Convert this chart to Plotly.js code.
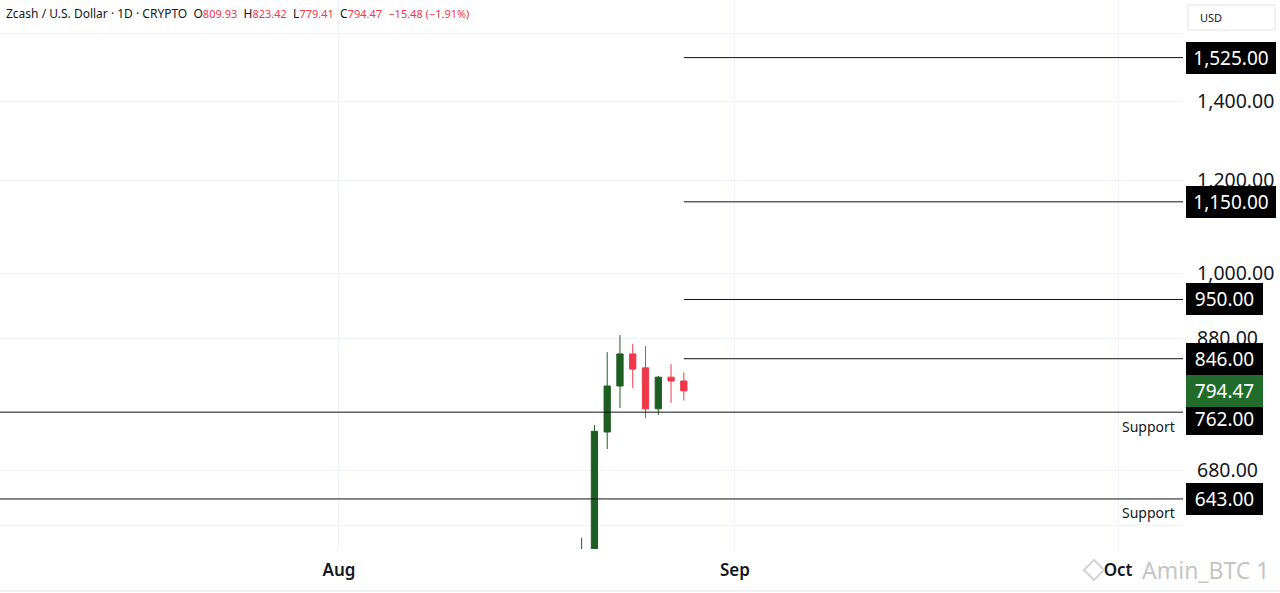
<!DOCTYPE html>
<html>
<head>
<meta charset="utf-8">
<script src="https://cdn.plot.ly/plotly-3.0.1.min.js"></script>
<style>
  html, body { margin: 0; padding: 0; background: #ffffff; }
  #chart { width: 1280px; height: 593px; }
</style>
</head>
<body>
<div id="chart"></div>
<script>
// ---- data ----
const dates  = ['2025-08-20','2025-08-21','2025-08-22','2025-08-23','2025-08-24','2025-08-25','2025-08-26','2025-08-27','2025-08-28'];
const opens  = [552, 548, 733, 802, 854, 831, 767, 816, 809.93];
const highs  = [596, 743, 857, 886, 871, 867, 818, 837, 823.42];
const lows   = [545, 540, 709, 768, 799, 753, 758, 776, 779.41];
const closes = [560, 734, 802, 854, 829, 767, 816, 809.95, 794.47];

const resistanceLevels = [1525, 1150, 950, 846];
const resistanceStart = '2025-08-28';
const supportLevels = [762, 643];
const supportLabel = 'Support';

const yTickVals = [610, 680, 880, 1000, 1200, 1400, 1600];
const yTickText = ['', '680.00', '880.00', '1,000.00', '1,200.00', '1,400.00', ''];

const symbolTitle = 'Zcash / U.S. Dollar · 1D · CRYPTO';
const currency = 'USD';
const watermark = 'Amin_BTC 1';

// ---- styling ----
const GREEN = '#1e5e22';
const GREEN_LABEL = '#216b2b';
const RED = '#f0384b';
const TXT = '#131722';
const FONT = '"Noto Sans", "Open Sans", sans-serif';
const xRange = ['2025-07-05 11:00', '2025-10-06 02:00'];
const yRange = [Math.log10(583), Math.log10(1707)];

const fmt = v => v.toLocaleString('en-US', {minimumFractionDigits: 2, maximumFractionDigits: 2});

const traces = [];
traces.push({
  type: 'candlestick',
  x: dates, open: opens, high: highs, low: lows, close: closes,
  increasing: {line: {color: GREEN, width: 1}, fillcolor: GREEN},
  decreasing: {line: {color: RED, width: 1}, fillcolor: RED},
  whiskerwidth: 0,
  hoverinfo: 'skip',
  showlegend: false
});
resistanceLevels.forEach(v => {
  traces.push({type: 'scatter', mode: 'lines', x: [resistanceStart, xRange[1]], y: [v, v],
    line: {color: '#131313', width: 1}, hoverinfo: 'skip', showlegend: false});
});
supportLevels.forEach(v => {
  traces.push({type: 'scatter', mode: 'lines', x: [xRange[0], xRange[1]], y: [v, v],
    line: {color: '#131313', width: 1}, hoverinfo: 'skip', showlegend: false});
});

const plotW = 1183, plotH = 549;
const toPx = v => plotH * (yRange[1] - Math.log10(v)) / (yRange[1] - yRange[0]);
const LABEL_H = 28;
const annotations = [];
const boxX = 1 + 3 / plotW;
const last = closes.length - 1;
const pricePx = toPx(closes[last]);
const addLabel = (v, bg, avoid) => {
  const txt = fmt(v);
  let shift = 0;
  if (avoid) {
    const d = toPx(v) - pricePx;
    if (Math.abs(d) < LABEL_H) shift = (d >= 0 ? 1 : -1) * (LABEL_H - Math.abs(d));
  }
  annotations.push({
    xref: 'paper', yref: 'y', x: boxX, y: Math.log10(v), yshift: -shift, xanchor: 'left', yanchor: 'middle',
    text: txt, showarrow: false, bgcolor: bg, borderpad: 3, borderwidth: 0,
    width: txt.length > 6 ? 84 : 71, align: 'center',
    font: {family: FONT, size: 19, color: '#ffffff'}
  });
};
resistanceLevels.forEach(v => addLabel(v, '#000000', true));
supportLevels.forEach(v => {
  addLabel(v, '#000000', true);
  annotations.push({xref: 'paper', yref: 'y', x: 1177 / plotW, y: Math.log10(v), yshift: -14,
    xanchor: 'right', yanchor: 'middle', text: supportLabel, showarrow: false,
    font: {family: FONT, size: 14, color: TXT}});
});
addLabel(closes[last], GREEN_LABEL, false);

// header
const chg = closes[last] - closes[last - 1];
const pct = chg / closes[last - 1] * 100;
const red = s => '<span style="color:' + RED + ';font-size:11px">' + s + '</span>';
const minus = s => s.replace('-', '\u2212');
const header = symbolTitle + '&nbsp;&nbsp;O' + red(fmt(opens[last])) + '&nbsp;&nbsp;H' + red(fmt(highs[last])) +
  '&nbsp;&nbsp;L' + red(fmt(lows[last])) + '&nbsp;&nbsp;C' + red(fmt(closes[last])) +
  '&nbsp;&nbsp;' + red(minus(chg.toFixed(2)) + ' (' + minus(pct.toFixed(2)) + '%)');
annotations.push({xref: 'paper', yref: 'paper', x: 6 / plotW, y: 1 - 14 / plotH, xanchor: 'left', yanchor: 'middle',
  text: header, showarrow: false, borderpad: 0, borderwidth: 0, font: {family: FONT, size: 12, color: TXT}});
// currency
annotations.push({xref: 'paper', yref: 'paper', x: 1198 / plotW, y: 1 - 17 / plotH, xanchor: 'left', yanchor: 'middle',
  text: currency, showarrow: false, font: {family: FONT, size: 11, color: TXT}});
// watermark
annotations.push({xref: 'paper', yref: 'paper', x: 1140 / plotW, y: -(570 - plotH) / plotH, xanchor: 'left', yanchor: 'middle',
  text: watermark, showarrow: false, font: {family: FONT, size: 23, color: 'rgba(170,170,170,0.7)'}});

const shapes = [
  {type: 'rect', xref: 'paper', yref: 'paper', x0: 1188 / plotW, x1: 1275 / plotW, y0: 1 - 30 / plotH, y1: 1 - 5 / plotH,
   line: {color: '#e0e3eb', width: 1}, fillcolor: 'rgba(0,0,0,0)'},
  {type: 'line', xref: 'paper', yref: 'paper', x0: 0, x1: 1280 / plotW, y0: -(591 - plotH) / plotH, y1: -(591 - plotH) / plotH,
   line: {color: '#e0e3eb', width: 1}},
  // watermark logo (diamond)
  {type: 'path', xref: 'paper', yref: 'paper',
   path: 'M ' + (1084/plotW) + ' ' + (-(570-plotH)/plotH) + ' L ' + (1094/plotW) + ' ' + (-(560-plotH)/plotH) +
         ' L ' + (1104/plotW) + ' ' + (-(570-plotH)/plotH) + ' L ' + (1094/plotW) + ' ' + (-(580-plotH)/plotH) + ' Z',
   line: {color: 'rgba(200,200,200,0.8)', width: 2}, fillcolor: 'rgba(0,0,0,0)'}
];

const layout = {
  width: 1280, height: 593,
  margin: {l: 0, r: 97, t: 0, b: 44, pad: 0},
  paper_bgcolor: '#ffffff', plot_bgcolor: '#ffffff',
  showlegend: false,
  font: {family: FONT, color: TXT},
  xaxis: {
    type: 'date', range: xRange, rangeslider: {visible: false},
    dtick: 'M1', tick0: '2025-08-01', tickformat: '%b',
    showgrid: true, gridcolor: '#f0f3fa', gridwidth: 1,
    zeroline: false, showline: false, ticks: '',
    ticklabelstandoff: 9,
    tickfont: {family: FONT, size: 17, color: TXT, weight: 600},
    fixedrange: true
  },
  yaxis: {
    type: 'log', side: 'right', range: yRange,
    tickmode: 'array', tickvals: yTickVals, ticktext: yTickText,
    showgrid: true, gridcolor: '#f0f3fa', gridwidth: 1,
    zeroline: false, showline: false, ticks: '',
    ticklabelstandoff: 13,
    tickfont: {family: FONT, size: 19.5, color: TXT},
    fixedrange: true
  },
  annotations: annotations,
  shapes: shapes
};

Plotly.newPlot('chart', traces, layout, {displayModeBar: false, staticPlot: true});
</script>
</body>
</html>
